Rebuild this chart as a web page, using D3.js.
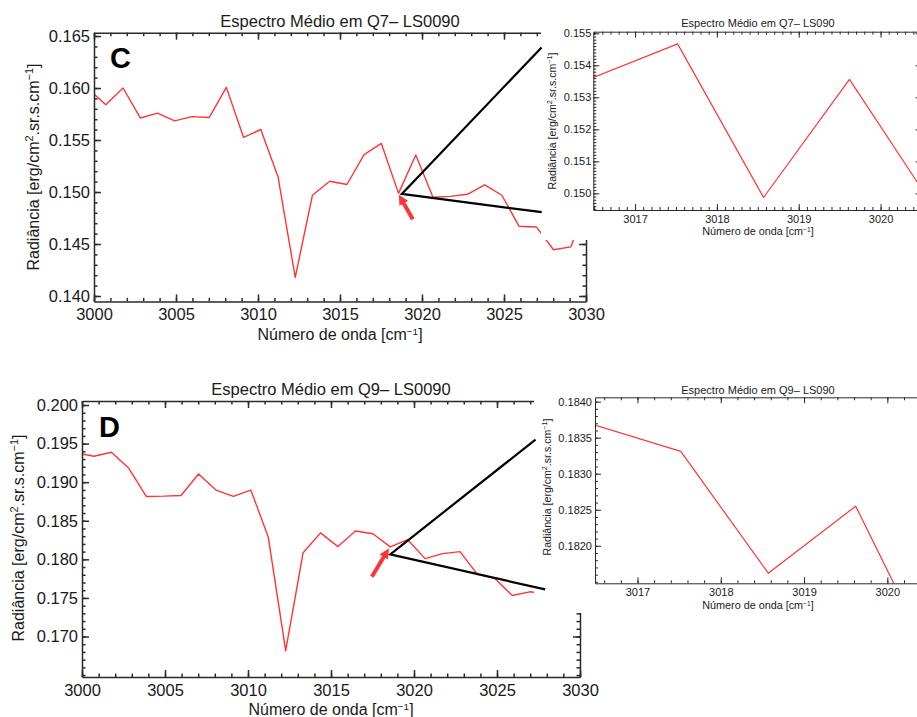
<!DOCTYPE html>
<html>
<head>
<meta charset="utf-8">
<script src="https://cdn.jsdelivr.net/npm/d3@7"></script>
<style>
  html, body { margin: 0; padding: 0; background: #fff; }
  svg { display: block; font-family: "Liberation Sans", Arial, Helvetica, sans-serif; }
</style>
</head>
<body>
<svg id="fig" width="917" height="717"></svg>
<script>
// Wavenumber samples [cm^-1] shared by both spectra
const wavenumber = [3000.0, 3000.72, 3001.77, 3002.82, 3003.87, 3004.92, 3005.97, 3007.02,
  3008.07, 3009.12, 3010.17, 3011.22, 3012.27, 3013.32, 3014.37, 3015.42, 3016.47, 3017.52,
  3018.57, 3019.62, 3020.67, 3021.72, 3022.77, 3023.82, 3024.87, 3025.92, 3026.97, 3028.02,
  3029.07, 3030.12];

// Mean radiance, region Q7 [erg/cm2.sr.s.cm-1]
const radianceQ7 = [0.15943, 0.15839, 0.16000, 0.15712, 0.15759, 0.15684, 0.15725, 0.15716,
  0.16006, 0.15525, 0.15601, 0.15147, 0.14179, 0.14969, 0.15103, 0.15072, 0.15360, 0.15467,
  0.14987, 0.15356, 0.14949, 0.14958, 0.14978, 0.15069, 0.14969, 0.14670, 0.14664, 0.14445,
  0.14472, 0.14880];

// Mean radiance, region Q9 [erg/cm2.sr.s.cm-1]
const radianceQ9 = [0.19366, 0.19336, 0.19388, 0.19179, 0.18815, 0.18819, 0.18828, 0.19106,
  0.18898, 0.18815, 0.18898, 0.18290, 0.16816, 0.18086, 0.18343, 0.18165, 0.18368, 0.18331,
  0.18162, 0.18255, 0.18009, 0.18074, 0.18100, 0.17805, 0.17753, 0.17531, 0.17579, 0.17550];

// Tick labels
const mainXTicks = [3000, 3005, 3010, 3015, 3020, 3025, 3030];
const q7YTicks = [0.140, 0.145, 0.150, 0.155, 0.160, 0.165];
const q9YTicks = [0.170, 0.175, 0.180, 0.185, 0.190, 0.195, 0.200];
const zoomXTicks = [3017, 3018, 3019, 3020];
const q7ZoomYTicks = [0.150, 0.151, 0.152, 0.153, 0.154, 0.155];
const q9ZoomYTicks = [0.1820, 0.1825, 0.1830, 0.1835, 0.1840];

// Titles
const titleQ7 = "Espectro Médio em Q7– LS0090";
const titleQ9 = "Espectro Médio em Q9– LS0090";
const zoomTitleQ7 = "Espectro Médio em Q7– LS090";
const zoomTitleQ9 = "Espectro Médio em Q9– LS090";

// Callout annotations in data units: apex, upper end, lower end, arrow tail, arrow head
const calloutQ7 = { apex: [3018.77, 0.14982], up: [3027.29, 0.1639], low: [3027.30, 0.14806],
  tail: [3019.44, 0.14738], head: [3018.83, 0.14907] };
const calloutQ9 = { apex: [3018.57, 0.18065], up: [3027.32, 0.19552], low: [3027.90, 0.17610],
  tail: [3017.46, 0.17775], head: [3018.24, 0.18052] };

const RED = "#ff3535";
const AXIS = "#2a2a2a";
const svg = d3.select("#fig");

const defs = svg.append("defs");
defs.append("marker")
  .attr("id", "arrowhead")
  .attr("markerUnits", "userSpaceOnUse")
  .attr("viewBox", "0 0 10 10")
  .attr("refX", 2).attr("refY", 5)
  .attr("markerWidth", 10).attr("markerHeight", 10)
  .attr("orient", "auto")
  .append("path").attr("d", "M0,0 L10,5 L0,10 Z").attr("fill", RED);

function yTitle(g, x, y, size) {
  const t = g.append("text")
    .attr("transform", `translate(${x},${y}) rotate(-90)`)
    .attr("text-anchor", "middle")
    .attr("font-size", size)
    .attr("fill", "#1a1a1a");
  t.append("tspan").text("Radiância [erg/cm");
  t.append("tspan").attr("baseline-shift", "super").attr("font-size", size * 0.68).text("2");
  t.append("tspan").text(".sr.s.cm");
  t.append("tspan").attr("baseline-shift", "super").attr("font-size", size * 0.68).text("−1");
  t.append("tspan").text("]");
}

function xTitle(g, x, y, size) {
  const t = g.append("text")
    .attr("x", x).attr("y", y)
    .attr("text-anchor", "middle")
    .attr("font-size", size)
    .attr("fill", "#1a1a1a");
  t.append("tspan").text("Número de onda [cm");
  t.append("tspan").attr("baseline-shift", "super").attr("font-size", size * 0.62).text("−1");
  t.append("tspan").text("]");
}

// One boxed IDL-style plot: red spectrum, inward ticks on all four sides
function drawPanel(o) {
  const g = svg.append("g");
  const [x0, x1] = o.x.range();
  const [y0, y1] = o.y.range();

  g.append("clipPath").attr("id", o.id)
    .append("rect").attr("x", x0).attr("y", y1).attr("width", x1 - x0).attr("height", y0 - y1);

  g.append("path")
    .datum(d3.zip(wavenumber, o.values))
    .attr("clip-path", `url(#${o.id})`)
    .attr("fill", "none")
    .attr("stroke", RED)
    .attr("stroke-width", o.lineW)
    .attr("stroke-linejoin", "round")
    .attr("d", d3.line().x(d => o.x(d[0])).y(d => o.y(d[1])));

  const sides = [
    { gen: d3.axisBottom, s: o.x, tr: `translate(0,${y0})`, ticks: o.xTicks, minor: o.xMinor, lab: true, fmt: o.xFmt, pad: o.padX },
    { gen: d3.axisTop, s: o.x, tr: `translate(0,${y1})`, ticks: o.xTicks, minor: o.xMinor, lab: false },
    { gen: d3.axisLeft, s: o.y, tr: `translate(${x0},0)`, ticks: o.yTicks, minor: o.yMinor, lab: true, fmt: o.yFmt, pad: o.padY },
    { gen: d3.axisRight, s: o.y, tr: `translate(${x1},0)`, ticks: o.yTicks, minor: o.yMinor, lab: false }
  ];
  sides.forEach(sd => {
    const mg = g.append("g").attr("transform", sd.tr)
      .call(sd.gen(sd.s).tickValues(sd.minor).tickSizeInner(-o.minorLen).tickSizeOuter(0).tickFormat(""));
    mg.select(".domain").remove();
    mg.selectAll("line").attr("stroke", AXIS).attr("stroke-width", o.axisW);

    const ag = g.append("g").attr("transform", sd.tr)
      .call(sd.gen(sd.s).tickValues(sd.ticks).tickSizeInner(-o.majorLen).tickSizeOuter(0)
        .tickPadding(sd.pad || 3).tickFormat(sd.lab ? sd.fmt : ""));
    ag.select(".domain").attr("stroke", AXIS).attr("stroke-width", o.axisW);
    ag.selectAll("line").attr("stroke", AXIS).attr("stroke-width", o.axisW);
    ag.selectAll("text")
      .attr("font-family", null)
      .attr("font-size", o.tickFont)
      .attr("fill", "#1a1a1a");
  });
  return g;
}

function inDomain(scale) {
  const [a, b] = d3.extent(scale.domain());
  return v => v >= a - 1e-9 && v <= b + 1e-9;
}

// ---------- Main panel C (Q7) ----------
const xC = d3.scaleLinear().domain([3000, 3030]).range([94, 586]);
const yC = d3.scaleLinear().domain([0.13948, 0.16532]).range([301.4, 32.7]);
drawPanel({
  id: "clipC", x: xC, y: yC, values: radianceQ7,
  xTicks: mainXTicks, yTicks: q7YTicks,
  xMinor: d3.range(3000, 3031), yMinor: d3.range(139, 166).map(d => d / 1000).filter(inDomain(yC)),
  xFmt: d3.format("d"), yFmt: d3.format(".3f"),
  majorLen: 7, minorLen: 3.5, axisW: 1.5, lineW: 1.4, tickFont: 16.5, padX: 7, padY: 4
});
svg.append("text").attr("x", 340).attr("y", 27).attr("text-anchor", "middle")
  .attr("font-size", 16.5).attr("fill", "#1a1a1a").text(titleQ7);
xTitle(svg, 340, 340, 16);
yTitle(svg, 39, 167, 16);
svg.append("text").attr("x", 110).attr("y", 68).attr("font-size", 29).attr("font-weight", "bold")
  .attr("fill", "#000").text("C");

// ---------- Main panel D (Q9) ----------
const xD = d3.scaleLinear().domain([3000, 3030]).range([82, 580]);
const yD = d3.scaleLinear().domain([0.16475, 0.20052]).range([677, 401]);
drawPanel({
  id: "clipD", x: xD, y: yD, values: radianceQ9,
  xTicks: mainXTicks, yTicks: q9YTicks,
  xMinor: d3.range(3000, 3031), yMinor: d3.range(165, 201).map(d => d / 1000).filter(inDomain(yD)),
  xFmt: d3.format("d"), yFmt: d3.format(".3f"),
  majorLen: 7, minorLen: 3.5, axisW: 1.5, lineW: 1.4, tickFont: 16.5, padX: 7, padY: 4
});
svg.append("text").attr("x", 331).attr("y", 395).attr("text-anchor", "middle")
  .attr("font-size", 16.5).attr("fill", "#1a1a1a").text(titleQ9);
xTitle(svg, 331, 715, 16);
yTitle(svg, 24, 538, 16);
svg.append("text").attr("x", 99).attr("y", 437).attr("font-size", 29).attr("font-weight", "bold")
  .attr("fill", "#000").text("D");

// ---------- Zoom panels sit on white cards over the right side ----------
svg.append("rect").attr("x", 541).attr("y", 0).attr("width", 376).attr("height", 240).attr("fill", "#fff");
svg.append("rect").attr("x", 534).attr("y", 372).attr("width", 383).attr("height", 241).attr("fill", "#fff");

const xZC = d3.scaleLinear().domain([3016.49, 3020.5]).range([593.3, 921.5]);
const yZC = d3.scaleLinear().domain([0.14948, 0.15505]).range([210, 31.7]);
drawPanel({
  id: "clipZC", x: xZC, y: yZC, values: radianceQ7,
  xTicks: zoomXTicks, yTicks: q7ZoomYTicks,
  xMinor: d3.range(30165, 30206).map(d => d / 10).filter(inDomain(xZC)),
  yMinor: d3.range(1495, 1551).map(d => d / 10000).filter(inDomain(yZC)),
  xFmt: d3.format("d"), yFmt: d3.format(".3f"),
  majorLen: 6, minorLen: 3, axisW: 1, lineW: 1.2, tickFont: 11, padX: 5, padY: 2
});
svg.append("text").attr("x", 758).attr("y", 27).attr("text-anchor", "middle")
  .attr("font-size", 11).attr("fill", "#1a1a1a").text(zoomTitleQ7);
xTitle(svg, 758, 235, 10.8);
yTitle(svg, 556, 121, 10.6);

const xZD = d3.scaleLinear().domain([3016.49, 3020.5]).range([595, 929]);
const yZD = d3.scaleLinear().domain([0.18148, 0.18406]).range([583.3, 397.3]);
drawPanel({
  id: "clipZD", x: xZD, y: yZD, values: radianceQ9,
  xTicks: zoomXTicks, yTicks: q9ZoomYTicks,
  xMinor: d3.range(15083, 15103).map(d => d / 5).filter(inDomain(xZD)),
  yMinor: d3.range(1815, 1841).map(d => d / 10000).filter(inDomain(yZD)),
  xFmt: d3.format("d"), yFmt: d3.format(".4f"),
  majorLen: 6, minorLen: 3, axisW: 1, lineW: 1.2, tickFont: 11, padX: 5, padY: 3
});
svg.append("text").attr("x", 758).attr("y", 394).attr("text-anchor", "middle")
  .attr("font-size", 11).attr("fill", "#1a1a1a").text(zoomTitleQ9);
xTitle(svg, 758, 609, 10.8);
yTitle(svg, 551, 487, 10.6);

// ---------- Callout lines and arrows ----------
function callout(c, x, y) {
  const p = d => [x(d[0]), y(d[1])];
  svg.append("path")
    .attr("d", d3.line()([p(c.up), p(c.apex), p(c.low)]))
    .attr("fill", "none").attr("stroke", "#000").attr("stroke-width", 2.2)
    .attr("stroke-linejoin", "miter");
  svg.append("path")
    .attr("d", d3.line()([p(c.tail), p(c.head)]))
    .attr("stroke", RED).attr("stroke-width", 4)
    .attr("marker-end", "url(#arrowhead)");
}
callout(calloutQ7, xC, yC);
callout(calloutQ9, xD, yD);
</script>
</body>
</html>
